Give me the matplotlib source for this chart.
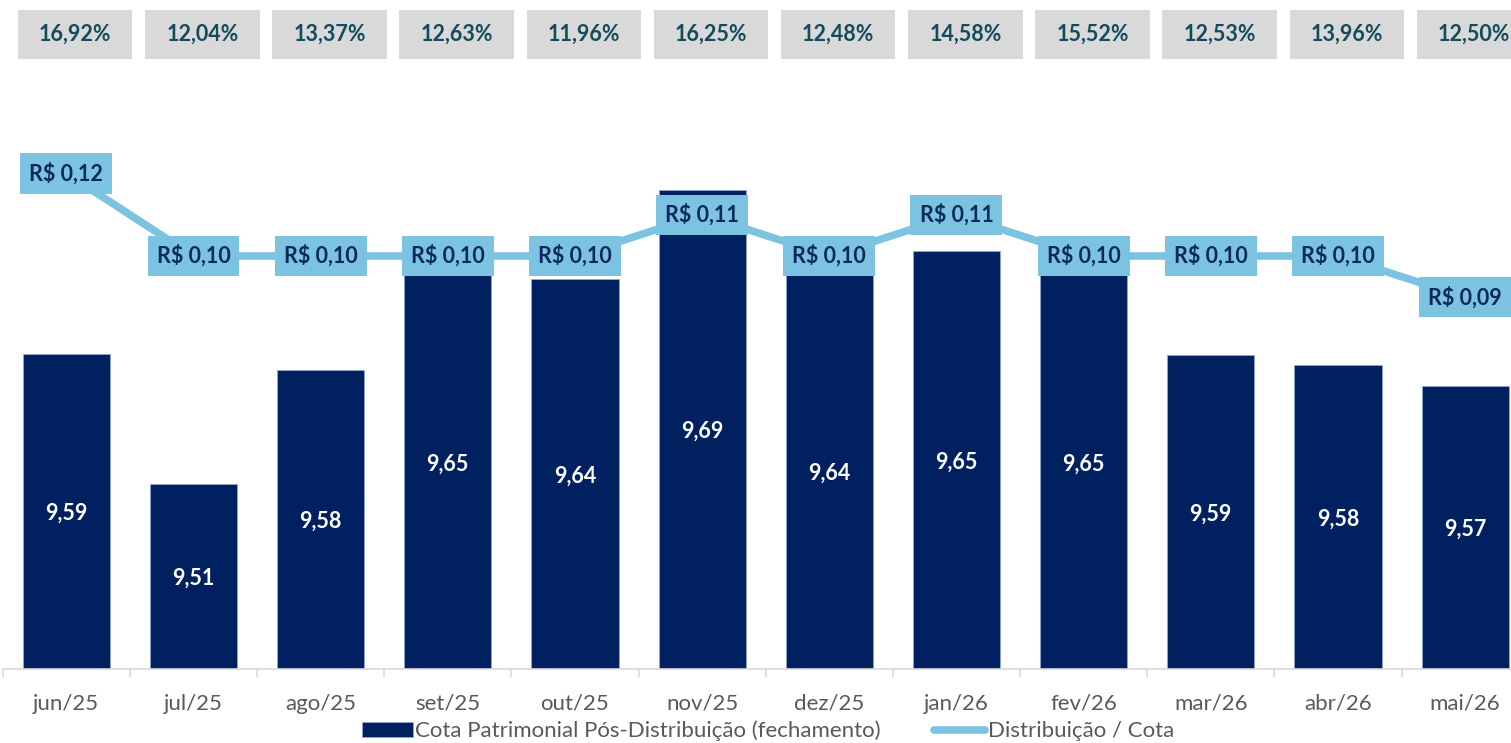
import matplotlib
matplotlib.use("Agg")
import matplotlib.pyplot as plt
import matplotlib.transforms as mtransforms
from matplotlib.patches import Rectangle
import numpy as np

plt.rcParams['font.family'] = ['Lato', 'DejaVu Sans']

meses = ["jun/25", "jul/25", "ago/25", "set/25", "out/25", "nov/25",
         "dez/25", "jan/26", "fev/26", "mar/26", "abr/26", "mai/26"]
cota = [9.59, 9.51, 9.58, 9.65, 9.636, 9.691, 9.64, 9.653, 9.65, 9.589, 9.583, 9.57]
distribuicao = [0.12, 0.10, 0.10, 0.10, 0.10, 0.11, 0.10, 0.11, 0.10, 0.10, 0.10, 0.09]
rentab = ["16,92%", "12,04%", "13,37%", "12,63%", "11,96%", "16,25%",
          "12,48%", "14,58%", "15,52%", "12,53%", "13,96%", "12,50%"]

NAVY = "#002060"
AZUL = "#7CC3E1"
CINZA_TXT = "#595959"

W, H = 1511, 743
fig = plt.figure(figsize=(W / 100, H / 100), dpi=100)
# o grafico original esta cortado a direita, entao o eixo passa da borda
ax = fig.add_axes([2.7 / W, 74 / H, 1526 / W, 589 / H])
x = np.arange(len(meses))

bars = ax.bar(x, cota, width=0.685, color=NAVY, edgecolor="#8FA8CF",
              linewidth=0.6, zorder=2, label="Cota Patrimonial Pós-Distribuição (fechamento)")
ax.set_ylim(9.396, 9.396 + 589 / 1625)
ax.set_xlim(-0.5, len(meses) - 0.5)
for xi, v in zip(x, cota):
    ax.text(xi, (9.396 + v) / 2, f"{v:.2f}".replace(".", ","), ha="center", va="center_baseline",
            color="white", fontsize=15.5, fontweight="bold", zorder=3)

ax.set_yticks([])
for s in ["left", "right", "top"]:
    ax.spines[s].set_visible(False)
ax.spines["bottom"].set_color("#D9D9D9")
ax.spines["bottom"].set_linewidth(1.2)
ax.set_xticks(x)
ax.set_xticklabels(meses, fontsize=16, color=CINZA_TXT)
ax.tick_params(axis="x", which="major", length=0, pad=18)
ax.set_xticks(np.arange(-0.5, len(meses)), minor=True)
ax.tick_params(axis="x", which="minor", length=6, width=1.2, color="#D9D9D9")

ax2 = ax.twinx()
ax2.set_ylim(0, 589 / 4130)
ax2.set_yticks([])
for s in ax2.spines.values():
    s.set_visible(False)
linha, = ax2.plot(x, distribuicao, color=AZUL, linewidth=5.5, zorder=3,
                  solid_capstyle="round", label="Distribuição / Cota")
for xi, v in zip(x, distribuicao):
    ax2.text(xi, v, f"R$ {v:.2f}".replace(".", ","), ha="center", va="center",
             color="#0B2A5B", fontsize=15.5, fontweight="bold", zorder=4,
             bbox=dict(boxstyle="square,pad=0.42", facecolor=AZUL, edgecolor="none"))

# caixas cinzas com a rentabilidade no topo
trans = mtransforms.blended_transform_factory(ax.transData, fig.transFigure)
for xi, r in zip(x, rentab):
    cx = xi + 0.07
    fig.patches.append(Rectangle((cx - 0.45, 1 - 59 / H), 0.9, 49 / H, transform=trans,
                                 facecolor="#D9D9D9", edgecolor="none"))
    fig.text(cx, 1 - 34 / H, r, transform=trans, ha="center", va="center",
             fontsize=15.5, fontweight="bold", color="#134B5C")

fig.legend(handles=[bars, linha], loc="center", bbox_to_anchor=(768 / W, 1 - 731 / H),
           ncol=2, frameon=False, fontsize=16, labelcolor=CINZA_TXT,
           handlelength=2.3, handleheight=0.7, handletextpad=0.1, columnspacing=2.4)

fig.savefig("out.png", dpi=100)
